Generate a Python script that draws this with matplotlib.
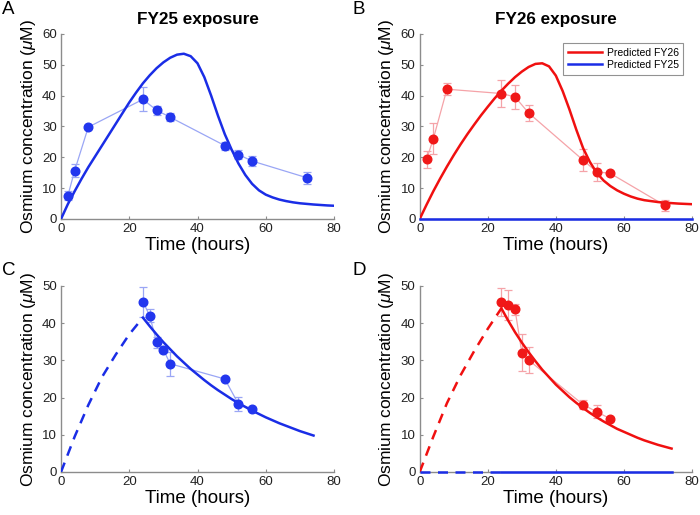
import matplotlib
matplotlib.use("Agg")
import matplotlib.pyplot as plt

plt.rcParams['font.family'] = ['Liberation Sans', 'DejaVu Sans']
plt.rcParams['mathtext.fontset'] = 'custom'
plt.rcParams['mathtext.it'] = 'Liberation Sans:italic'
plt.rcParams['mathtext.rm'] = 'Liberation Sans'

# ---------------- data ----------------
# Panel A (FY25 exposure)
a_t = [2, 4, 8, 24, 28, 32, 48, 52, 56, 72]
a_y = [7.5, 15.7, 29.8, 38.8, 35.3, 33.0, 23.8, 20.9, 18.8, 13.4]
a_err = [1.5, 2.2, 0.4, 3.9, 1.5, 1.3, 1.3, 1.4, 1.5, 1.9]
a_curve_t = list(range(0, 81, 2))
a_curve_y = [0, 4.8, 9, 13, 16.8, 20.3, 23.8, 27.3, 30.8, 34.3, 37.8, 41, 44,
             46.6, 48.9, 50.8, 52.3, 53.3, 53.6, 52.8, 50.5, 46, 40, 33.5,
             27.5, 22.5, 18, 14.3, 11.4, 9.3, 7.9, 7.0, 6.3, 5.8, 5.4, 5.1,
             4.9, 4.7, 4.55, 4.4, 4.3]

# Panel B (FY26 exposure)
b_t = [2, 4, 8, 24, 28, 32, 48, 52, 56, 72]
b_y = [19.3, 26.0, 42.1, 40.7, 39.6, 34.4, 19.1, 15.3, 14.8, 4.4]
b_err = [2.8, 5.0, 2.0, 4.3, 4.0, 2.7, 3.5, 3.0, 0.4, 1.8]
b_curve_t = list(range(0, 81, 2))
b_curve_y = [0, 4.6, 9, 13.1, 17, 20.7, 24.2, 27.5, 30.6, 33.6, 36.4, 39.1,
             41.6, 43.9, 46, 47.8, 49.3, 50.3, 50.5, 49.5, 46.5, 41.5, 35.5,
             29, 23, 18.5, 15, 12.5, 10.7, 9.3, 8.2, 7.3, 6.6, 6.1, 5.8, 5.5,
             5.3, 5.15, 5.0, 4.9, 4.8]
b_fy25_t = [0, 80]
b_fy25_y = [0, 0]

# Panel C (FY25, single dose)
c_t = [24, 26, 28, 30, 32, 48, 52, 56]
c_y = [45.8, 42.0, 34.9, 32.9, 29.1, 25.0, 18.3, 16.9]
c_err = [4.0, 1.8, 1.5, 0.5, 3.2, 0.4, 1.9, 0.5]
c_dash_t = [0, 4, 8, 12, 16, 20, 24]
c_dash_y = [0, 9.5, 18, 25.5, 31.5, 37, 41.5]
c_solid_t = list(range(24, 75, 2))
c_solid_y = [41.5, 39.2, 37.0, 34.9, 33.0, 31.1, 29.4, 27.7, 26.2, 24.7, 23.3,
             22.0, 20.8, 19.6, 18.5, 17.5, 16.5, 15.6, 14.7, 13.9, 13.1, 12.4,
             11.7, 11.0, 10.4, 9.8]

# Panel D (FY26, single dose)
d_t = [24, 26, 28, 30, 32, 48, 52, 56]
d_y = [45.7, 44.9, 43.7, 32.1, 30.1, 18.1, 16.2, 14.3]
d_err = [3.8, 4.0, 1.5, 4.9, 3.4, 1.2, 1.7, 0.5]
d_dash_t = [0, 4, 8, 12, 16, 20, 24]
d_dash_y = [0, 9.5, 18.5, 26, 32.5, 38.5, 44]
d_solid_t = list(range(24, 75, 2))
d_solid_y = [44.0, 40.7, 37.6, 34.8, 32.2, 29.8, 27.5, 25.5, 23.5, 21.8, 20.1,
             18.6, 17.2, 15.9, 14.7, 13.6, 12.6, 11.6, 10.8, 10.0, 9.2, 8.5,
             7.9, 7.3, 6.8, 6.3]
d_fy25_dash_t = [0, 24]
d_fy25_solid_t = [24, 74]

x_ticks = [0, 20, 40, 60, 80]
y_ticks_top = [0, 10, 20, 30, 40, 50, 60]
y_ticks_bot = [0, 10, 20, 30, 40, 50]

BLUE = '#1a2de6'
RED = '#f01010'
LBLUE = '#9aa6f5'
LRED = '#f5a3a8'
MBLUE = '#2236ee'
MRED = '#f01818'
SPINE = '#8c8c8c'

fig = plt.figure(figsize=(7.0, 5.15), dpi=100)
W, H = 700, 515


def make_ax(l, r, t, b):
    ax = fig.add_axes([l / W, 1 - b / H, (r - l) / W, (b - t) / H])
    for s in ['top', 'right']:
        ax.spines[s].set_visible(False)
    for s in ['left', 'bottom']:
        ax.spines[s].set_color(SPINE)
        ax.spines[s].set_linewidth(1.0)
    ax.tick_params(direction='in', length=2.5, width=0.8, color=SPINE,
                   labelsize=9.5, labelcolor='#222222', pad=3)
    ax.set_xlim(0, 80)
    ax.set_xticks(x_ticks)
    ax.set_xlabel('Time (hours)', fontsize=13.5, labelpad=1)
    ax.set_ylabel(r'Osmium concentration ($\mu$M)', fontsize=12.5, labelpad=3)
    return ax


def data(ax, t, y, e, lc, mc):
    ax.errorbar(t, y, yerr=e, color=lc, lw=0.9, elinewidth=0.9, capsize=2.8,
                capthick=0.9, zorder=2)
    ax.plot(t, y, 'o', color=mc, ms=6.2, zorder=4, mec=mc)


# A
axA = make_ax(61, 334, 34, 219)
data(axA, a_t, a_y, a_err, LBLUE, MBLUE)
axA.plot(a_curve_t, a_curve_y, color=BLUE, lw=1.8, zorder=3)
axA.set_ylim(0, 60)
axA.set_yticks(y_ticks_top)
axA.set_title('FY25 exposure', fontsize=12.3, fontweight='bold', pad=7)

# B
axB = make_ax(419.7, 692, 34, 219)
data(axB, b_t, b_y, b_err, LRED, MRED)
l1, = axB.plot(b_curve_t, b_curve_y, color=RED, lw=1.8, zorder=3,
               label='Predicted FY26')
l2, = axB.plot(b_fy25_t, b_fy25_y, color=BLUE, lw=1.8, zorder=3,
               label='Predicted FY25', clip_on=False)
axB.set_ylim(0, 60)
axB.set_yticks(y_ticks_top)
axB.set_title('FY26 exposure', fontsize=12.3, fontweight='bold', pad=7)
leg = axB.legend(loc='upper right', bbox_to_anchor=(0.968, 0.952),
                 borderaxespad=0, fontsize=7.5, frameon=True, fancybox=False,
                 edgecolor='#777777', handlelength=3.3, borderpad=0.45,
                 labelspacing=0.22, handletextpad=0.4)
leg.get_frame().set_linewidth(0.8)

# C
axC = make_ax(61, 334, 286, 472)
data(axC, c_t, c_y, c_err, LBLUE, MBLUE)
axC.plot(c_dash_t, c_dash_y, color=BLUE, lw=1.8, ls=(0, (4, 3)), zorder=3)
axC.plot(c_solid_t, c_solid_y, color=BLUE, lw=1.8, zorder=3)
axC.set_ylim(0, 50)
axC.set_yticks(y_ticks_bot)

# D
axD = make_ax(419.7, 692, 286, 472)
data(axD, d_t, d_y, d_err, LRED, MRED)
axD.plot(d_dash_t, d_dash_y, color=RED, lw=1.8, ls=(0, (4, 3)), zorder=3)
axD.plot(d_solid_t, d_solid_y, color=RED, lw=1.8, zorder=3)
axD.plot(d_fy25_dash_t, [0, 0], color=BLUE, lw=1.8, ls=(0, (4, 3)),
         zorder=3, clip_on=False)
axD.plot(d_fy25_solid_t, [0, 0], color=BLUE, lw=1.8, zorder=3, clip_on=False)
axD.set_ylim(0, 50)
axD.set_yticks(y_ticks_bot)

# panel letters
for lab, x, y in [('A', 2, 1), ('B', 352, 1), ('C', 2, 262), ('D', 352, 262)]:
    fig.text(x / W, 1 - y / H, lab, fontsize=13.5, va='top', ha='left')

fig.savefig('out.png', dpi=100)
